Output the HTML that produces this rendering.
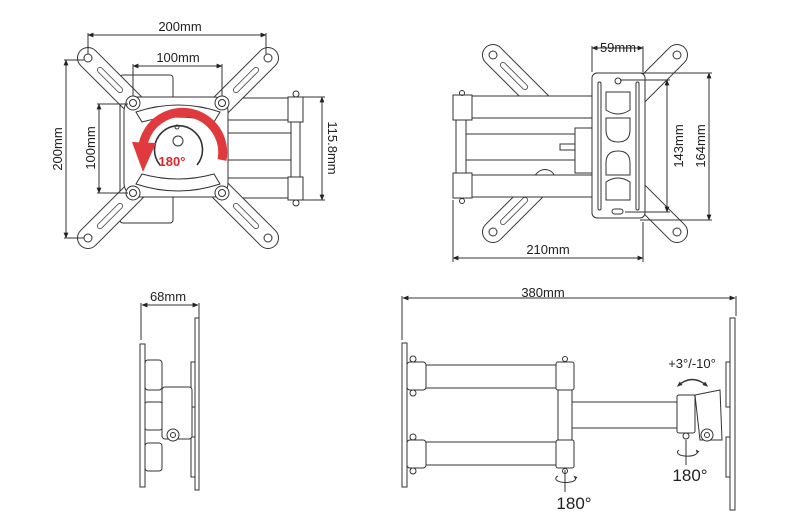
<!DOCTYPE html>
<html><head><meta charset="utf-8"><style>
html,body{margin:0;padding:0;background:#fff;}
svg{display:block;font-family:"Century Gothic","Liberation Sans",sans-serif;}
</style></head><body>
<svg width="800" height="532" viewBox="0 0 800 532" xmlns="http://www.w3.org/2000/svg">
<defs>
<marker id="a" viewBox="0 0 10 10" refX="9" refY="5" markerWidth="6" markerHeight="6" orient="auto-start-reverse"><path d="M0,1 L10,5 L0,9 z" fill="#222"/></marker>
<marker id="r" viewBox="0 0 10 10" refX="5" refY="5" markerWidth="4" markerHeight="4" orient="auto-start-reverse"><path d="M0,1 L10,5 L0,9 z" fill="#333"/></marker>
</defs>
<g fill="none" stroke="#333" stroke-width="1">
<rect x="225" y="98" width="63" height="22" fill="#fff"/>
<rect x="225" y="178" width="63" height="20" fill="#fff"/>
<rect x="225" y="133" width="68" height="27" fill="#fff"/>
<rect x="288" y="97" width="15" height="25" fill="#fff"/>
<rect x="288" y="177" width="15" height="23" fill="#fff"/>
<rect x="291" y="122" width="9" height="55" fill="#fff"/>
<circle cx="296" cy="94" r="3"/><circle cx="296" cy="203" r="3"/>
<rect x="120" y="75" width="53" height="148" rx="3" fill="#fff"/>
<g stroke-linecap="round">
<line x1="88" y1="58" x2="268" y2="238" stroke="#333" stroke-width="22"/>
<line x1="268" y1="58" x2="88" y2="238" stroke="#333" stroke-width="22"/>
<line x1="88" y1="58" x2="268" y2="238" stroke="#fff" stroke-width="20"/>
<line x1="268" y1="58" x2="88" y2="238" stroke="#fff" stroke-width="20"/>
<line x1="100" y1="70" x2="120" y2="90" stroke="#333" stroke-width="6"/>
<line x1="100" y1="70" x2="120" y2="90" stroke="#fff" stroke-width="4.5"/>
<line x1="256" y1="70" x2="236" y2="90" stroke="#333" stroke-width="6"/>
<line x1="256" y1="70" x2="236" y2="90" stroke="#fff" stroke-width="4.5"/>
<line x1="100" y1="226" x2="120" y2="206" stroke="#333" stroke-width="6"/>
<line x1="100" y1="226" x2="120" y2="206" stroke="#fff" stroke-width="4.5"/>
<line x1="256" y1="226" x2="236" y2="206" stroke="#333" stroke-width="6"/>
<line x1="256" y1="226" x2="236" y2="206" stroke="#fff" stroke-width="4.5"/>
</g>
<circle cx="88" cy="58" r="4"/><circle cx="268" cy="58" r="4"/><circle cx="88" cy="238" r="4"/><circle cx="268" cy="238" r="4"/>
<rect x="124" y="97" width="104" height="100" rx="14" fill="#fff"/>
<path d="M136,112 Q178,98 220,112 L214,122 Q178,112 142,122 Z"/>
<path d="M136,184 Q178,198 220,184 L214,174 Q178,184 142,174 Z"/>
<circle cx="133" cy="103" r="7" fill="#fff"/><circle cx="133" cy="103" r="3.5"/>
<circle cx="222" cy="103" r="7" fill="#fff"/><circle cx="222" cy="103" r="3.5"/>
<circle cx="133" cy="193" r="7" fill="#fff"/><circle cx="133" cy="193" r="3.5"/>
<circle cx="222" cy="193" r="7" fill="#fff"/><circle cx="222" cy="193" r="3.5"/>
<path d="M160,165 A24,24 0 1 1 197,165" stroke-width="1.6"/>
<circle cx="178" cy="141" r="5"/><circle cx="177" cy="127" r="2"/>
<line x1="88" y1="35" x2="266" y2="35" marker-start="url(#a)" marker-end="url(#a)"/>
<line x1="88" y1="33" x2="88" y2="54"/><line x1="266" y1="33" x2="266" y2="54"/>
<line x1="133" y1="66" x2="222" y2="66" marker-start="url(#a)" marker-end="url(#a)"/>
<line x1="133" y1="64" x2="133" y2="96"/><line x1="222" y1="64" x2="222" y2="96"/>
<line x1="66" y1="60" x2="66" y2="238" marker-start="url(#a)" marker-end="url(#a)"/>
<line x1="64" y1="60" x2="84" y2="60"/><line x1="64" y1="238" x2="84" y2="238"/>
<line x1="99" y1="104" x2="99" y2="193" marker-start="url(#a)" marker-end="url(#a)"/>
<line x1="97" y1="104" x2="128" y2="104"/><line x1="97" y1="193" x2="128" y2="193"/>
<line x1="322" y1="97" x2="322" y2="200" marker-start="url(#a)" marker-end="url(#a)"/>
<line x1="303" y1="97" x2="325" y2="97"/><line x1="303" y1="200" x2="325" y2="200"/>
</g>
<path d="M222,160 A40,40 0 1 0 143,145" fill="none" stroke="#e03a3e" stroke-width="9"/>
<path d="M132,142 L156,143 L143,172 Z" fill="#e03a3e"/>
<text x="172" y="166" font-size="13" font-weight="bold" fill="#d8262b" text-anchor="middle">180°</text>
<g font-size="13" fill="#222" text-anchor="middle">
<text x="180" y="31">200mm</text>
<text x="178" y="62">100mm</text>
<text transform="translate(62,149) rotate(-90)">200mm</text>
<text transform="translate(95,148) rotate(-90)">100mm</text>
<text transform="translate(328,148) rotate(90)">115.8mm</text>
</g>

<g fill="none" stroke="#333" stroke-width="1">
<g stroke-linecap="round">
<line x1="493" y1="55" x2="545" y2="107" stroke="#333" stroke-width="22"/>
<line x1="493" y1="55" x2="545" y2="107" stroke="#fff" stroke-width="20"/>
<line x1="493" y1="232" x2="545" y2="180" stroke="#333" stroke-width="22"/>
<line x1="493" y1="232" x2="545" y2="180" stroke="#fff" stroke-width="20"/>
<line x1="677" y1="55" x2="625" y2="107" stroke="#333" stroke-width="22"/>
<line x1="677" y1="55" x2="625" y2="107" stroke="#fff" stroke-width="20"/>
<line x1="677" y1="232" x2="625" y2="180" stroke="#333" stroke-width="22"/>
<line x1="677" y1="232" x2="625" y2="180" stroke="#fff" stroke-width="20"/>
<line x1="503" y1="65" x2="525" y2="87" stroke="#333" stroke-width="6"/>
<line x1="503" y1="65" x2="525" y2="87" stroke="#fff" stroke-width="4.5"/>
<line x1="503" y1="222" x2="525" y2="200" stroke="#333" stroke-width="6"/>
<line x1="503" y1="222" x2="525" y2="200" stroke="#fff" stroke-width="4.5"/>
</g>
<circle cx="493" cy="55" r="4"/><circle cx="677" cy="55" r="4"/><circle cx="493" cy="232" r="4"/><circle cx="677" cy="232" r="4"/>
<rect x="472" y="96" width="120" height="22" fill="#fff"/>
<rect x="472" y="175" width="120" height="22" fill="#fff"/>
<rect x="466" y="134" width="110" height="26" fill="#fff"/>
<rect x="575" y="128" width="17" height="45" fill="#fff"/>
<rect x="453" y="95" width="19" height="25" fill="#fff"/>
<rect x="453" y="173" width="19" height="25" fill="#fff"/>
<line x1="456" y1="120" x2="456" y2="173"/><line x1="466" y1="120" x2="466" y2="173"/>
<circle cx="462" cy="93" r="2.5"/><circle cx="462" cy="201" r="2.5"/>
<rect x="560" y="144" width="15" height="6"/>
<rect x="592" y="73" width="53" height="145" rx="5" fill="#fff"/>
<rect x="598" y="82" width="3" height="128" rx="1.5"/><rect x="636" y="82" width="3" height="128" rx="1.5"/>
<path d="M606,92 h24 v18 q-12,8 -24,0 z"/>
<path d="M606,118 h24 v12 q0,12 -12,12 q-12,0 -12,-12 z"/>
<path d="M606,175 h24 v-12 q0,-12 -12,-12 q-12,0 -12,12 z"/>
<path d="M606,200 h24 v-18 q-12,-8 -24,0 z"/>
<circle cx="618" cy="81" r="3"/><rect x="612" y="209" width="11" height="5" rx="2.5"/>
<line x1="592" y1="48" x2="643" y2="48" marker-start="url(#a)" marker-end="url(#a)"/>
<line x1="592" y1="46" x2="592" y2="72"/><line x1="643" y1="46" x2="643" y2="72"/>
<line x1="667" y1="80" x2="667" y2="212" marker-start="url(#a)" marker-end="url(#a)"/>
<line x1="620" y1="80" x2="670" y2="80"/><line x1="625" y1="212" x2="670" y2="212"/>
<line x1="709" y1="73" x2="709" y2="220" marker-start="url(#a)" marker-end="url(#a)"/>
<line x1="640" y1="73" x2="712" y2="73"/><line x1="640" y1="220" x2="712" y2="220"/>
<line x1="453" y1="258" x2="643" y2="258" marker-start="url(#a)" marker-end="url(#a)"/>
<line x1="453" y1="200" x2="453" y2="262"/><line x1="643" y1="222" x2="643" y2="262"/>
</g>
<g font-size="13" fill="#222" text-anchor="middle">
<text x="618" y="52">59mm</text>
<text transform="translate(683,146) rotate(-90)">143mm</text>
<text transform="translate(705,146) rotate(-90)">164mm</text>
<text x="548" y="254">210mm</text>
</g>

<g fill="#fff" stroke="#333" stroke-width="1">
<line x1="142" y1="305" x2="198" y2="305" marker-start="url(#a)" marker-end="url(#a)"/>
<line x1="141" y1="303" x2="141" y2="340"/><line x1="199" y1="303" x2="199" y2="318"/>
<rect x="140" y="344" width="5" height="143"/>
<rect x="195" y="318" width="4" height="172"/>
<rect x="191" y="362" width="4" height="45"/><rect x="191" y="437" width="4" height="40"/>
<rect x="162" y="387" width="30" height="52" rx="3"/>
<rect x="145" y="360" width="17" height="30" rx="3"/>
<rect x="145" y="402" width="17" height="28" rx="2"/>
<rect x="145" y="443" width="17" height="28" rx="3"/>
<circle cx="173" cy="435" r="6"/><circle cx="173" cy="435" r="2.5"/>
</g>
<text x="168" y="301" font-size="13" fill="#222" text-anchor="middle">68mm</text>

<g fill="#fff" stroke="#333" stroke-width="1">
<line x1="403" y1="298" x2="735" y2="298" marker-start="url(#a)" marker-end="url(#a)"/>
<line x1="402" y1="296" x2="402" y2="340"/><line x1="736" y1="296" x2="736" y2="316"/>
<rect x="402" y="343" width="5" height="144"/>
<rect x="426" y="365" width="130" height="23"/>
<rect x="426" y="442" width="130" height="23"/>
<rect x="558" y="390" width="14" height="50"/>
<rect x="572" y="402" width="108" height="26"/>
<rect x="407" y="362" width="19" height="28" rx="3"/>
<rect x="407" y="440" width="19" height="28" rx="3"/>
<rect x="556" y="362" width="18" height="28" rx="2"/>
<rect x="556" y="440" width="18" height="28" rx="2"/>
<circle cx="413" cy="359" r="3"/><circle cx="413" cy="393" r="3"/><circle cx="413" cy="437" r="3"/><circle cx="413" cy="471" r="3"/>
<circle cx="565" cy="359" r="2.5"/><circle cx="565" cy="471" r="2.5"/>
<path d="M695,395 L720,390 L722,440 L700,440 Z"/>
<rect x="677" y="395" width="18" height="38" rx="2"/>
<circle cx="686" cy="436" r="3"/>
<circle cx="707" cy="435" r="6"/><circle cx="707" cy="435" r="2.5"/>
<rect x="730" y="318" width="5" height="192"/>
<rect x="726" y="362" width="4" height="45"/><rect x="726" y="437" width="4" height="40"/>
</g>
<g fill="none" stroke="#333" stroke-width="1">
<line x1="565" y1="470" x2="565" y2="492"/>
<path d="M558,476 A10,4 0 1 0 575,477" marker-end="url(#r)"/>
<line x1="686" y1="440" x2="686" y2="465"/>
<path d="M679,450 A10,4 0 1 0 697,451" marker-end="url(#r)"/>
<path d="M679,385 Q692,374 706,385" marker-start="url(#r)" marker-end="url(#r)" stroke-width="1.4"/>
</g>
<g fill="#222" text-anchor="middle">
<text x="543" y="297" font-size="13">380mm</text>
<text x="692" y="368" font-size="13">+3°/-10°</text>
<text x="690" y="481" font-size="17">180°</text>
<text x="574" y="509" font-size="17">180°</text>
</g>
</svg>
</body></html>
